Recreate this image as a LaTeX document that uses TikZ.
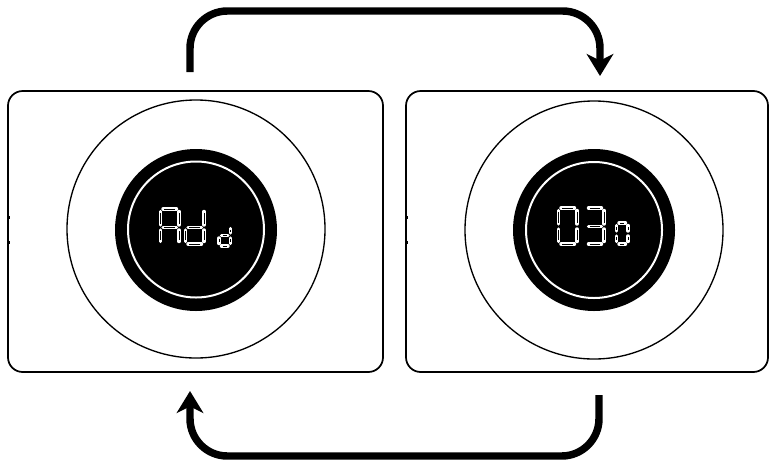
\documentclass[tikz,border=0pt]{standalone}
\usetikzlibrary{arrows.meta}
\tikzset{
  panel/.style={draw=black, line width=1.3pt, rounded corners=11pt, inner sep=0pt, fill=white},
  ring/.style={draw=black, line width=1pt},
  disk/.style={fill=black},
  glass/.style={draw=white, line width=1.5pt},
  flow/.style={draw=black, line width=5.6pt, rounded corners=28pt,
    -{Stealth[length=16.5pt,width=20pt,inset=5pt]}},
  segw/.style={draw=white, line width=2.6pt, line cap=round},
  segb/.style={draw=black, line width=0.6pt, line cap=butt, shorten <=1pt, shorten >=1pt},
  tick/.style={fill=black}
}
\newcommand\sg[4]{\draw[segw] (#1,#2) -- (#3,#4); \draw[segb] (#1,#2) -- (#3,#4);}
\newcommand\dg[5]{\def\xa{#1}\def\xb{#2}\def\ya{#3}\def\ym{#4}\def\yb{#5}}
\newcommand\sgT{\sg{\xa+2.5}{\ya}{\xb-2.5}{\ya}}
\newcommand\sgM{\sg{\xa+2.5}{\ym}{\xb-2.5}{\ym}}
\newcommand\sgB{\sg{\xa+2.5}{\yb}{\xb-2.5}{\yb}}
\newcommand\sgUL{\sg{\xa}{\ya+2.5}{\xa}{\ym-2.5}}
\newcommand\sgUR{\sg{\xb}{\ya+2.5}{\xb}{\ym-2.5}}
\newcommand\sgLL{\sg{\xa}{\ym+2.5}{\xa}{\yb-2.5}}
\newcommand\sgLR{\sg{\xb}{\ym+2.5}{\xb}{\yb-2.5}}
\begin{document}
\begin{tikzpicture}[x=0.75pt,y=-0.75pt]
\path[use as bounding box] (0,0) rectangle (773,461);

% panels
\node[panel, minimum width=281.25pt, minimum height=210.75pt] (left) at (195.5,231.5) {};
\node[panel, minimum width=271.5pt, minimum height=210.75pt] (right) at (587,231.5) {};
\fill[tick] (7.5,215.5) rectangle (9.8,218.5);
\fill[tick] (7.5,240.5) rectangle (9.8,243.5);
\fill[tick] (405.5,215.5) rectangle (407.8,218.5);
\fill[tick] (405.5,240.5) rectangle (407.8,243.5);

% dials
\node[ring, circle, minimum size=193.5pt, inner sep=0pt] (dialL) at (196,229) {};
\node[ring, circle, minimum size=193.5pt, inner sep=0pt] (dialR) at (594,230) {};
\node[disk, circle, minimum size=121.5pt, inner sep=0pt] (diskL) at (196,230) {};
\node[disk, circle, minimum size=121.5pt, inner sep=0pt] (diskR) at (594,230) {};
\node[glass, circle, minimum size=102pt, inner sep=0pt] (glassL) at (196,229.5) {};
\node[glass, circle, minimum size=102pt, inner sep=0pt] (glassR) at (594,230) {};

% "Add"
\dg{160.5}{179}{209}{227.5}{244}\sgT\sgUL\sgUR\sgM\sgLL\sgLR
\dg{185.5}{204}{209}{227.5}{244}\sgUR\sgM\sgLL\sgLR\sgB
\dg{219}{230.5}{226}{235.5}{246}\sgUR\sgM\sgLL\sgLR\sgB
% "030"
\dg{558.5}{577}{208}{226.5}{244}\sgT\sgUL\sgUR\sgLL\sgLR\sgB
\dg{586}{604}{208}{226.5}{244}\sgT\sgUR\sgM\sgLR\sgB
\dg{616.5}{628}{223}{233.5}{244}\sgT\sgUL\sgUR\sgLL\sgLR\sgB

% connectors
\coordinate (t1) at (190,72);
\coordinate (t2) at (600,76);
\coordinate (b1) at (599,395);
\coordinate (b2) at (190,391);
\draw[flow] (t1) |- (600,11) -- (t2);
\draw[flow] (b1) |- (190,456) -- (b2);
\end{tikzpicture}
\end{document}
